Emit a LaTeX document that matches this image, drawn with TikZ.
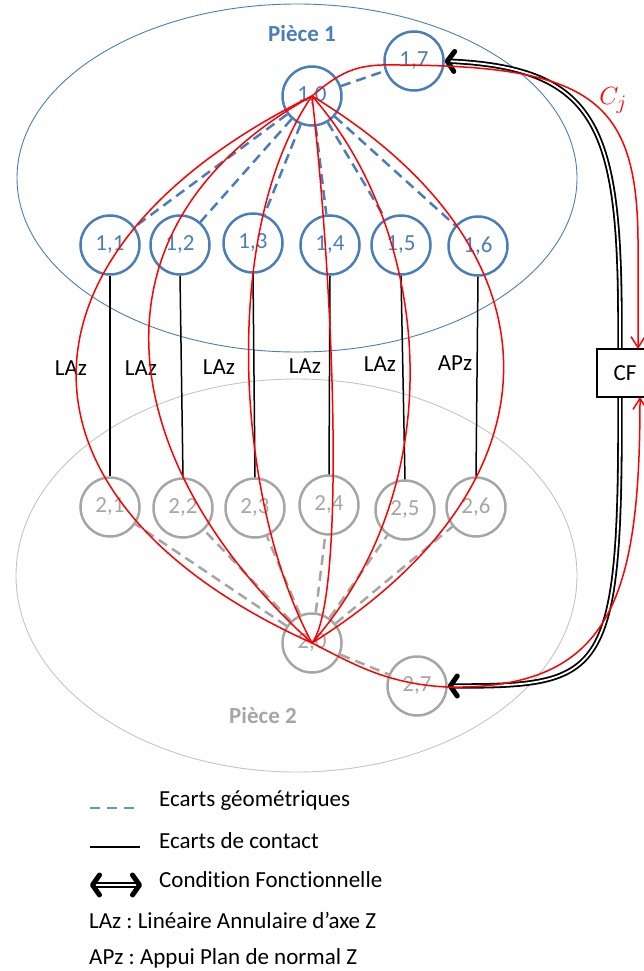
\documentclass[tikz,border=0pt]{standalone}
\usepackage{fontspec}
\setmainfont{Carlito}[Ligatures=NoCommon]
\usetikzlibrary{arrows.meta}
\definecolor{bl}{RGB}{74,126,187}
\definecolor{bll}{RGB}{91,155,213}
\definecolor{gr}{RGB}{166,166,166}
\definecolor{grl}{RGB}{196,196,196}
\definecolor{rd}{RGB}{255,0,0}
\newcommand\fsz{\fontsize{23}{26}\selectfont}
\frenchspacing
\begin{document}
\begin{tikzpicture}[x=1pt,y=-1pt,
  nA/.style={circle,draw=bl,line width=2.5pt,minimum size=59pt,inner sep=0pt,text=bl,font=\fsz},
  nB/.style={circle,draw=gr,line width=2.5pt,minimum size=59pt,inner sep=0pt,text=gr,font=\fsz},
  geoA/.style={draw=bl,line width=2.5pt,dash pattern=on 10pt off 6pt},
  geoB/.style={draw=gr,line width=2.5pt,dash pattern=on 10pt off 6pt},
  contact/.style={draw=black,line width=1.5pt},
  chain/.style={draw=rd,line width=1.5pt},
  chainarrow/.style={draw=rd,line width=1.5pt,-{Straight Barb[length=11pt,width=14pt]}},
  cfarrow/.style={draw=black,line width=1.8pt,double=white,double distance=1.8pt,
     {Straight Barb[length=7pt,width=20pt,line width=5pt,round]}-{Straight Barb[length=7pt,width=20pt,line width=5pt,round]}},
  lbl/.style={font=\fsz,text=black,inner sep=0pt},
  leg/.style={font=\fsz,text=black,inner sep=0pt,anchor=west},
]
\useasboundingbox (0,0) rectangle (644,971);
% part ellipses
\draw[bl,line width=0.9pt] (297,178) ellipse [x radius=280, y radius=174];
\draw[grl,line width=0.9pt] (296.5,575.5) ellipse [x radius=280.5, y radius=196.5];
\node[font=\fsz\bfseries,text=bl] (p1) at (302,34) {Pièce 1};
\node[font=\fsz\bfseries,text=gr] (p2) at (263,716) {Pièce 2};

% nodes part 1
\node[nA] (n17) at (414,61) {1,7};
\node[nA] (n10) at (312,96) {1,0};
\node[nA] (n11) at (110,245) {1,1};
\node[nA] (n12) at (180,245) {1,2};
\node[nA] (n13) at (253,243) {1,3};
\node[nA] (n14) at (330,245) {1,4};
\node[nA] (n15) at (401,245) {1,5};
\node[nA] (n16) at (478,246) {1,6};
% nodes part 2
\node[nB] (n21) at (110,507) {2,1};
\node[nB] (n22) at (183,508) {2,2};
\node[nB] (n23) at (255,508) {2,3};
\node[nB] (n24) at (329,505) {2,4};
\node[nB] (n25) at (405,510) {2,5};
\node[nB] (n26) at (476,507) {2,6};
\node[nB] (n20) at (312,643) {2,0};
\node[nB] (n27) at (417,686) {2,7};

% geometric deviations
\foreach \k in {11,12,13,14,15,16,17} \draw[geoA] (n10) -- (n\k);
\foreach \k in {21,22,23,24,25,26,27} \draw[geoB] (n20) -- (n\k);

% contacts
\foreach \k in {1,...,6} \draw[contact] (n1\k.south) -- (n2\k.north);
\node[lbl] (l1) at (71,368) {LAz};
\node[lbl] (l2) at (141,368) {LAz};
\node[lbl] (l3) at (219,367) {LAz};
\node[lbl] (l4) at (305,366) {LAz};
\node[lbl] (l5) at (380,364) {LAz};
\node[lbl] (l6) at (455,363) {APz};

% red chains
\draw[chain] (n10.center) .. controls (0,250) and (-5,500) .. (n20.center);
\draw[chain] (n10.center) .. controls (70,230) and (120,470) .. (n20.center);
\draw[chain] (n10.center) .. controls (220,230) and (235,500) .. (n20.center);
\draw[chain] (n10.center) .. controls (335,300) and (345,600) .. (n20.center);
\draw[chain] (n10.center) .. controls (430,230) and (455,480) .. (n20.center);
\draw[chain] (n10.center) .. controls (570,252) and (565,485) .. (n20.center);

% functional condition
\draw[cfarrow] (n17.east) .. controls (600,68) and (620,130) .. (620,330) -- (620,420)
   .. controls (620,680) and (600,686) .. (n27.east);
\node[draw=black,fill=white,line width=1.5pt,minimum width=56pt,minimum height=48pt,inner sep=0pt,font=\fsz] (cf) at (625,373) {CF};
\coordinate (cfT) at (638,349);
\coordinate (cfB) at (640,397);
\draw[chainarrow] (n10.center) .. controls (345,68) and (360,64) .. (400,65)
   .. controls (590,66) and (637,100) .. (638,240) -- (cfT);
\draw[chainarrow] (n20.center) .. controls (350,662) and (385,684) .. (447,687)
   .. controls (610,690) and (640,600) .. (cfB);
\node[text=rd,font=\fontsize{30}{32}\selectfont,inner sep=0pt] (cj) at (613,101) {$C_j$};

% legend
\coordinate (a1) at (90,808); \coordinate (b1) at (140,808);
\draw[draw=bll,line width=2.5pt,dash pattern=on 10pt off 7pt] (a1) -- (b1);
\node[leg] (t1) at (159,801) {Ecarts géométriques};
\coordinate (a2) at (90,847); \coordinate (b2) at (140,847);
\draw[contact] (a2) -- (b2);
\node[leg] (t2) at (159,841) {Ecarts de contact};
\coordinate (a3) at (90,885); \coordinate (b3) at (142,885);
\draw[cfarrow] (a3) -- (b3);
\node[leg] (t3) at (159,880) {Condition Fonctionnelle};
\node[leg] (t4) at (89,920) {LAz : Linéaire Annulaire d’axe Z};
\node[leg] (t5) at (89,958) {APz : Appui Plan de normal Z};
\end{tikzpicture}
\end{document}
